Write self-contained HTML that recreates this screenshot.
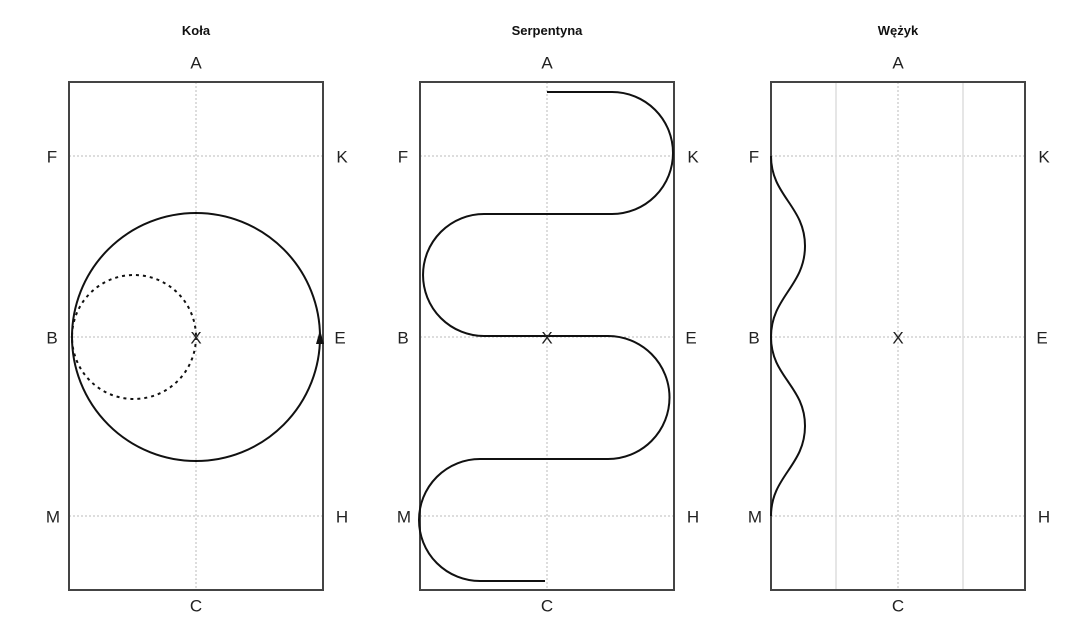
<!DOCTYPE html>
<html><head><style>body{margin:0;background:#fff}</style></head><body>
<svg width="1080" height="639" xmlns="http://www.w3.org/2000/svg" font-family="Liberation Sans, DejaVu Sans, sans-serif">
<rect width="1080" height="639" fill="#fff"/>
<g font-size="13" font-weight="bold" text-anchor="middle" fill="#111">
<text x="196" y="35">Koła</text><text x="547" y="35">Serpentyna</text><text x="898" y="35">Wężyk</text>
</g>
<g stroke="#bbb" stroke-width="1" stroke-dasharray="2,2" fill="none">
<path d="M196 82V590M69 156H323M69 337H323M69 516H323"/>
<path d="M547 82V590M420 156H674M420 337H674M420 516H674"/>
<path d="M898 82V590M771 156H1025M771 337H1025M771 516H1025"/>
</g>
<g stroke="#ddd" stroke-width="1.5"><path d="M836 82V590M963 82V590"/></g>
<g stroke="#444" stroke-width="2" fill="none">
<rect x="69" y="82" width="254" height="508"/>
<rect x="420" y="82" width="254" height="508"/>
<rect x="771" y="82" width="254" height="508"/>
</g>
<g stroke="#111" stroke-width="2" fill="none">
<circle cx="196" cy="337" r="124"/>
<circle cx="134" cy="337" r="62" stroke-dasharray="3,4"/>
<path d="M547 92H612A61 61 0 0 1 612 214H484A61 61 0 0 0 484 336H608A61 61 0 0 1 608 459H480A61 61 0 0 0 480 581H545"/>
<path d="M771 156C771 196 805 206 805 246C805 286 771 297 771 337C771 377 805 386 805 426C805 466 771 476 771 516"/>
</g>
<path d="M316 344L320 330L324 344Z" fill="#111"/>
<g font-size="17" fill="#222" text-anchor="middle" dominant-baseline="middle">
<text x="196" y="64">A</text><text x="196" y="607">C</text><text x="52" y="158">F</text><text x="342" y="158">K</text><text x="52" y="339">B</text><text x="340" y="339">E</text><text x="53" y="518">M</text><text x="342" y="518">H</text><text x="196" y="339">X</text>
<text x="547" y="64">A</text><text x="547" y="607">C</text><text x="403" y="158">F</text><text x="693" y="158">K</text><text x="403" y="339">B</text><text x="691" y="339">E</text><text x="404" y="518">M</text><text x="693" y="518">H</text><text x="547" y="339">X</text>
<text x="898" y="64">A</text><text x="898" y="607">C</text><text x="754" y="158">F</text><text x="1044" y="158">K</text><text x="754" y="339">B</text><text x="1042" y="339">E</text><text x="755" y="518">M</text><text x="1044" y="518">H</text><text x="898" y="339">X</text>
</g>
</svg>
</body></html>
